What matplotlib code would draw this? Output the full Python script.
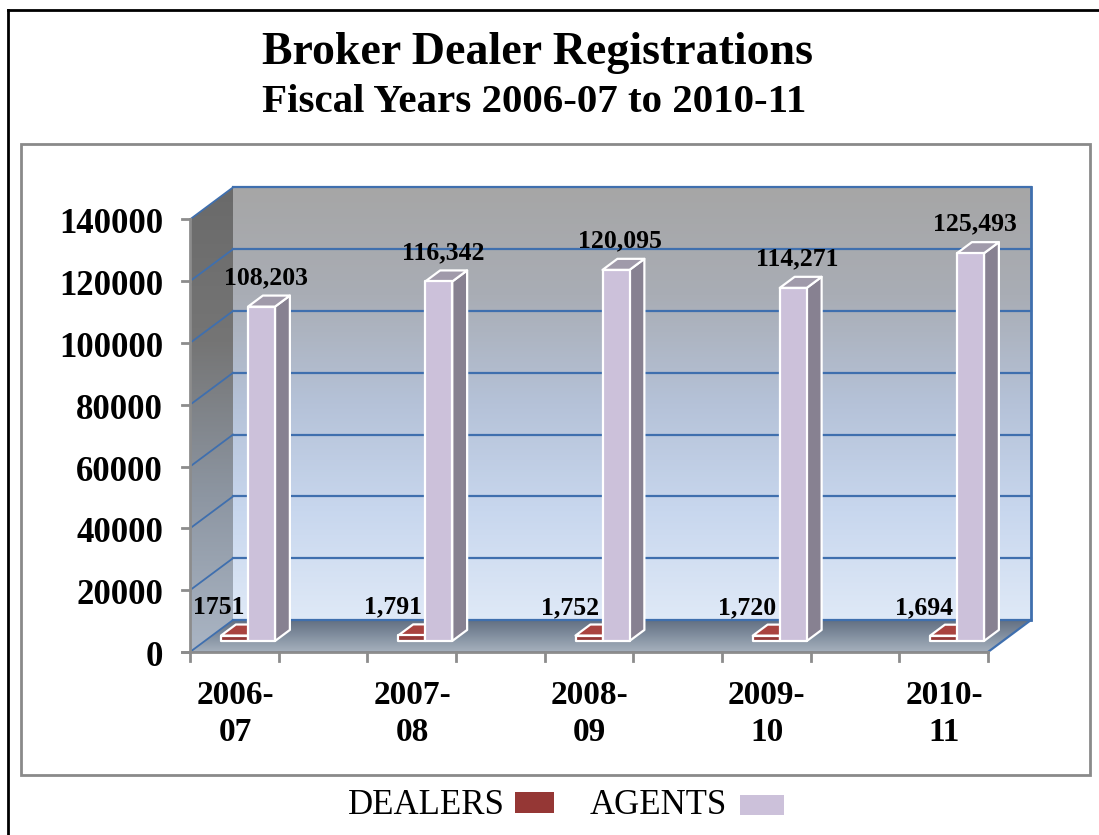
import matplotlib
matplotlib.use('Agg')
import matplotlib.pyplot as plt
import numpy as np
from matplotlib.patches import Polygon, Rectangle
from matplotlib.lines import Line2D
from matplotlib.colors import LinearSegmentedColormap

years = ['2006-\n07', '2007-\n08', '2008-\n09', '2009-\n10', '2010-\n11']
dealers = [1751, 1791, 1752, 1720, 1694]
agents = [108203, 116342, 120095, 114271, 125493]
dealer_labels = ['1751', '1,791', '1,752', '1,720', '1,694']
agent_labels = [f'{v:,}' for v in agents]
y_ticks = list(range(0, 140001, 20000))

DEALER_COLOR = '#953735'
AGENT_COLOR = '#ccc1da'
SERIF = ['Liberation Serif', 'DejaVu Serif']

# reference is 1099x835 px; work out data units from pixel scale
W, H = 1099, 835
PX_CAT = 177.25            # pixels per category
PX_VAL = 61.8 / 20000      # pixels per unit value
ORIG = (248, 652)          # pixel of (x=0, value=0)


def ux(px):
    return (px - ORIG[0]) / PX_CAT


def uy(py):
    return (ORIG[1] - py) / PX_VAL


X0, X1 = ux(190), ux(988)
YMAX = 140000
DX, DY = 43 / PX_CAT, 32 / PX_VAL   # wall depth
BW = 27 / PX_CAT
D_FRONT, D_BACK = 0.344, 0.69


def proj(x, y, d):
    return (x + d * DX, y + d * DY)


def grad_fill(ax, pts, colors, z):
    poly = Polygon(pts, closed=True, facecolor='none', edgecolor='none', zorder=z)
    ax.add_patch(poly)
    xs = [p[0] for p in pts]
    ys = [p[1] for p in pts]
    cm = LinearSegmentedColormap.from_list('g', colors)
    im = ax.imshow(np.linspace(0, 1, 256).reshape(-1, 1), cmap=cm, origin='lower',
                   extent=(min(xs), max(xs), min(ys), max(ys)), aspect='auto',
                   interpolation='bilinear', zorder=z)
    im.set_clip_path(poly)


def draw_box(ax, x0, x1, h, front, side, top, z):
    df, db = D_FRONT, D_BACK
    faces = [
        ([proj(x1, 0, df), proj(x1, 0, db), proj(x1, h, db), proj(x1, h, df)], side),
        ([proj(x0, h, df), proj(x1, h, df), proj(x1, h, db), proj(x0, h, db)], top),
        ([proj(x0, 0, df), proj(x1, 0, df), proj(x1, h, df), proj(x0, h, df)], front),
    ]
    for pts, c in faces:
        ax.add_patch(Polygon(pts, closed=True, facecolor=c, edgecolor='white',
                             lw=1.6, joinstyle='round', zorder=z))


fig = plt.figure(figsize=(W / 100, H / 100), dpi=100)
ax = fig.add_axes([0, 0, 1, 1])
ax.set_axis_off()

# walls and floor
back = [proj(X0, 0, 1), proj(X1, 0, 1), proj(X1, YMAX, 1), proj(X0, YMAX, 1)]
grad_fill(ax, back, ['#dfe9f7', '#c8d7ee', '#b5c2d8', '#a9adb5', '#a6a6a6'], 1)
side = [(X0, 0), proj(X0, 0, 1), proj(X0, YMAX, 1), (X0, YMAX)]
grad_fill(ax, side, ['#aab5c4', '#8d96a2', '#757575', '#6a6a6a'], 1)
floor = [(X0, 0), (X1, 0), proj(X1, 0, 1), proj(X0, 0, 1)]
grad_fill(ax, floor, ['#a6b0bd', '#8390a0', '#627082'], 1)

grid_c = '#3f6fae'
for v in y_ticks:
    bx0, by0 = proj(X0, v, 1)
    bx1, by1 = proj(X1, v, 1)
    ax.plot([bx0, bx1], [by0, by1], color=grid_c, lw=1.6, zorder=2)
    ax.plot([X0, bx0], [v, by0], color=grid_c, lw=1.3, zorder=2)
# wall edges
tx, ty = proj(X1, YMAX, 1)
ax.plot([tx, tx], [proj(X1, 0, 1)[1], ty], color=grid_c, lw=2, zorder=2)
ax.plot([X1, proj(X1, 0, 1)[0]], [0, proj(X1, 0, 1)[1]], color=grid_c, lw=1.6, zorder=2)
ax.plot([X0, X1], [0, 0], color='#5d7fb0', lw=1.2, zorder=2)

# axes lines and ticks
axis_c = '#8c8c8c'
ax.plot([ux(182), X1], [0, 0], color=axis_c, lw=2, zorder=3)
ax.plot([X0, X0], [0, YMAX], color=axis_c, lw=2, zorder=3)
for v in y_ticks:
    ax.plot([ux(182), X0], [v, v], color=axis_c, lw=2, zorder=3)
    ax.text(ux(163), v - 1800, f'{v}', ha='right', va='center', fontsize=25,
            fontweight='bold', family=SERIF, zorder=5)
for k in range(10):
    xt = X0 + k * (X1 - X0) / 9
    ax.plot([xt, xt], [0, uy(661)], color=axis_c, lw=2, zorder=3)

# bars
for i in range(len(years)):
    base = i - D_FRONT * DX
    draw_box(ax, base - BW, base, dealers[i], DEALER_COLOR, '#6f2725', '#a9433f', 4)
    draw_box(ax, base, base + BW, agents[i], AGENT_COLOR, '#878191', '#a09aaa', 4)
    ax.text(i + 0.10, agents[i] + 13000, agent_labels[i], ha='center', va='center',
            fontsize=18.5, fontweight='bold', family=SERIF, zorder=6)
    ax.text(i - 0.02, dealers[i] + 12700, dealer_labels[i], ha='right', va='center',
            fontsize=18.5, fontweight='bold', family=SERIF, zorder=6)
    ax.text(i - 0.073, uy(714), years[i], ha='center', va='center', fontsize=24,
            fontweight='bold', family=SERIF, linespacing=1.25, zorder=6)

ax.set_xlim(ux(0), ux(W))
ax.set_ylim(uy(H), uy(0))

# frames
fig.add_artist(Rectangle((21 / W, 1 - 775 / H), (1090 - 21) / W, (775 - 144) / H,
                         transform=fig.transFigure, fill=False, edgecolor='#8a8a8a', lw=2))
fig.add_artist(Line2D([8 / W, 1], [1 - 10 / H, 1 - 10 / H], transform=fig.transFigure,
                      color='black', lw=2))
fig.add_artist(Line2D([8 / W, 8 / W], [0, 1 - 10 / H], transform=fig.transFigure,
                      color='black', lw=2))

# titles
fig.text(537 / W, 1 - 53 / H, 'Broker Dealer Registrations', ha='center', va='center',
         fontsize=33, fontweight='bold', family=SERIF)
fig.text(534 / W, 1 - 103 / H, 'Fiscal Years 2006-07 to 2010-11', ha='center', va='center',
         fontsize=29.5, fontweight='bold', family=SERIF)

# legend
fig.text(505 / W, 1 - 806 / H, 'DEALERS', ha='right', va='center', fontsize=25, family=SERIF)
fig.add_artist(Rectangle((515 / W, 1 - 813 / H), 39 / W, 21 / H, transform=fig.transFigure,
                         facecolor=DEALER_COLOR, edgecolor='none'))
fig.text(727 / W, 1 - 806 / H, 'AGENTS', ha='right', va='center', fontsize=25, family=SERIF)
fig.add_artist(Rectangle((740 / W, 1 - 815 / H), 44 / W, 20 / H, transform=fig.transFigure,
                         facecolor=AGENT_COLOR, edgecolor='none'))

fig.savefig('out.png', dpi=100)
